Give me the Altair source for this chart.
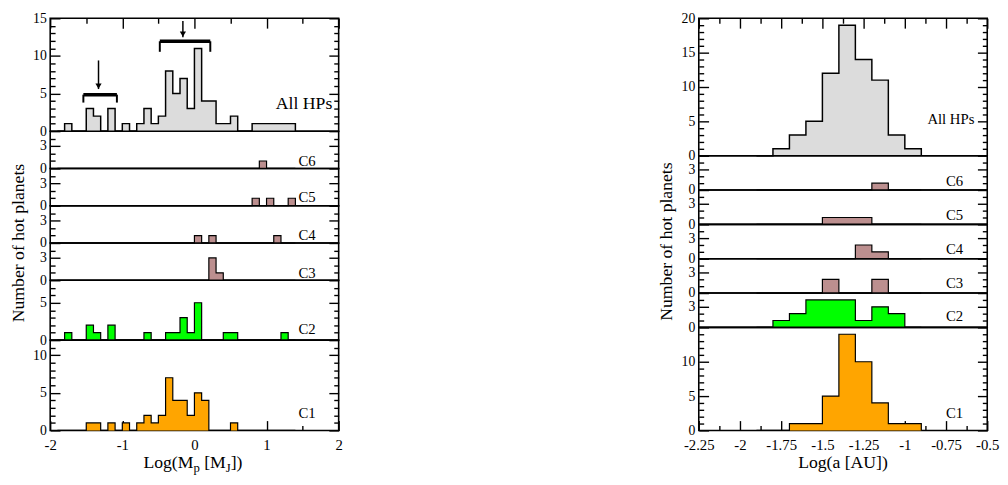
import altair as alt
import pandas as pd

FONT = "Liberation Serif"
BIN = 0.1          # histogram bin width (dex)
TL, TS = 10, 5     # major / minor tick lengths (px)

# ---------------- data ----------------
# Left figure: Log(Mp [MJ]); counts per 0.1-dex bin, first bin starts at -1.8
MASS_START = -1.8
mass_all = [1, 0, 0, 3, 2, 0, 3, 0, 1, 0, 1, 3, 1, 2, 8, 5, 7, 3, 11, 4, 4, 1, 1, 2, 0, 0, 1, 1, 1, 1, 1, 1]
mass_c6 = [0, 0, 0, 0, 0, 0, 0, 0, 0, 0, 0, 0, 0, 0, 0, 0, 0, 0, 0, 0, 0, 0, 0, 0, 0, 0, 0, 1, 0, 0, 0, 0]
mass_c5 = [0, 0, 0, 0, 0, 0, 0, 0, 0, 0, 0, 0, 0, 0, 0, 0, 0, 0, 0, 0, 0, 0, 0, 0, 0, 0, 1, 0, 1, 0, 0, 1]
mass_c4 = [0, 0, 0, 0, 0, 0, 0, 0, 0, 0, 0, 0, 0, 0, 0, 0, 0, 0, 1, 0, 1, 0, 0, 0, 0, 0, 0, 0, 0, 1, 0, 0]
mass_c3 = [0, 0, 0, 0, 0, 0, 0, 0, 0, 0, 0, 0, 0, 0, 0, 0, 0, 0, 0, 0, 3, 1, 0, 0, 0, 0, 0, 0, 0, 0, 0, 0]
mass_c2 = [1, 0, 0, 2, 1, 0, 2, 0, 0, 0, 0, 1, 0, 0, 1, 1, 3, 1, 5, 0, 0, 0, 1, 1, 0, 0, 0, 0, 0, 0, 1, 0]
mass_c1 = [0, 0, 0, 1, 1, 0, 1, 0, 1, 0, 1, 2, 1, 2, 7, 4, 4, 2, 5, 4, 0, 0, 0, 1, 0, 0, 0, 0, 0, 0, 0, 0]

# Right figure: Log(a [AU]); counts per 0.1-dex bin, first bin starts at -1.8
SMA_START = -1.8
sma_all = [1, 3, 5, 12, 19, 14, 11, 3, 1]
sma_c6 = [0, 0, 0, 0, 0, 0, 1, 0, 0]
sma_c5 = [0, 0, 0, 1, 1, 1, 0, 0, 0]
sma_c4 = [0, 0, 0, 0, 0, 2, 1, 0, 0]
sma_c3 = [0, 0, 0, 2, 0, 0, 2, 0, 0]
sma_c2 = [1, 2, 4, 4, 4, 1, 3, 2, 0]
sma_c1 = [0, 1, 1, 5, 14, 10, 4, 1, 1]

panel_names = ["All HPs", "C6", "C5", "C4", "C3", "C2", "C1"]

# axes
mass_domain = [-2, 2]
mass_major = [-2, -1, 0, 1, 2]
mass_minor = [-1.5, -0.5, 0.5, 1.5]
sma_domain = [-2.25, -0.5]
sma_major = [-2.25, -2, -1.75, -1.5, -1.25, -1, -0.75, -0.5]
sma_minor = [-2.125, -1.875, -1.625, -1.375, -1.125, -0.875, -0.625]

mass_ymax = [15, 5, 5, 5, 5, 8, 12]
mass_ymajor = [[0, 5, 10, 15], [0, 3], [0, 3], [0, 3], [0, 3], [0, 5], [0, 5, 10]]
sma_ymax = [20, 5, 5, 5, 5, 5, 15]
sma_ymajor = [[0, 5, 10, 15, 20], [0, 3], [0, 3], [0, 3], [0, 3], [0, 3], [0, 5, 10]]

# bracket / arrow annotations on the left "All HPs" panel (data units)
bracket_x1 = [-1.54, -0.48]
bracket_x2 = [-1.075, 0.22]
bracket_y = [4.85, 11.95]
bracket_foot = [3.8, 10.55]
arrow_x = [-1.33, -0.16]
arrow_top = [9.4, 14.65]
arrow_tip = [5.6, 12.5]

# ---------------- styles ----------------
fills = ["#dcdcdc", "#bc8f8f", "#bc8f8f", "#bc8f8f", "#bc8f8f", "#00ff00", "#ffa500"]
line_w = [1.5, 1.2, 1.2, 1.2, 1.2, 1.2, 1.2]
W = 294
mass_heights = [115, 38, 38, 38, 38, 61, 92]
sma_heights = [140, 35, 35, 35, 35, 35, 105]


def hist_frame(start, counts):
    xs = [round(start - BIN, 3)] + [round(start + BIN * k, 3) for k in range(len(counts) + 1)]
    ns = [0] + list(counts) + [0]
    return pd.DataFrame({"x": xs, "n": ns})


def ax(**kw):
    base = dict(domain=False, grid=False, title=None, tickColor="black", tickWidth=1.4,
                labelFont=FONT, labelFontSize=15, labelColor="black",
                labelFlush=False, labelOverlap=False)
    base.update(kw)
    return alt.Axis(**base)


def make_panel(df, xdom, xmaj, xmin, xside, ymax, ymaj, h, fill, lw,
               label, lab_size, lab_left, lab_up, extras=()):
    xs = alt.Scale(domain=xdom, nice=False, zero=False)
    ys = alt.Scale(domain=[0, ymax], nice=False, zero=True)
    ymin = [v for v in range(0, ymax) if v not in ymaj]
    if xside == "bottom":
        xa1 = ax(orient="bottom", values=xmaj, offset=-TL, tickSize=TL, labelPadding=7,
                 labelExpr="'' + datum.value")
        xa2 = ax(orient="bottom", values=xmin, offset=-TS, tickSize=TS, labels=False)
    elif xside == "top":
        xa1 = ax(orient="top", values=xmaj, offset=-TL, tickSize=TL, labels=False)
        xa2 = ax(orient="top", values=xmin, offset=-TS, tickSize=TS, labels=False)
    else:
        xa1 = None
        xa2 = None
    base = alt.Chart(df)
    area = base.mark_area(interpolate="step-after", color=fill, opacity=1).encode(
        x=alt.X("x:Q", scale=xs, axis=xa1),
        y=alt.Y("n:Q", scale=ys, stack=None,
                axis=ax(orient="left", values=ymaj, offset=-TL, tickSize=TL, labelPadding=4,
                        labelFontSize=14)))
    line = base.mark_line(interpolate="step-after", color="black", strokeWidth=lw).encode(
        x=alt.X("x:Q", scale=xs, axis=xa2),
        y=alt.Y("n:Q", scale=ys,
                axis=ax(orient="left", values=ymin, offset=-TS, tickSize=TS, labels=False)))
    r1 = base.mark_line(strokeOpacity=0).encode(
        x=alt.X("x:Q", scale=xs, axis=None),
        y=alt.Y("n:Q", scale=ys,
                axis=ax(orient="right", values=ymaj, offset=-TL, tickSize=TL, labels=False)))
    r2 = base.mark_line(strokeOpacity=0).encode(
        x=alt.X("x:Q", scale=xs, axis=None),
        y=alt.Y("n:Q", scale=ys,
                axis=ax(orient="right", values=ymin, offset=-TS, tickSize=TS, labels=False)))
    txt = alt.Chart(pd.DataFrame({"t": [label]})).mark_text(
        align="left", baseline="middle", font=FONT, fontSize=lab_size, color="black"
    ).encode(x=alt.value(lab_left), y=alt.value(h - lab_up), text="t:N")
    layers = [area, line, r1, r2, txt] + [e(xs, ys, h) for e in extras]
    return alt.layer(*layers).resolve_axis(x="independent", y="independent").properties(width=W, height=h)


def brackets_layer(xs, ys, h):
    bdf = pd.DataFrame({"x1": bracket_x1, "x2": bracket_x2, "y": bracket_y})
    ends = pd.DataFrame({"x": bracket_x1 + bracket_x2,
                         "y": bracket_y + bracket_y,
                         "yf": bracket_foot + bracket_foot})
    adf = pd.DataFrame({"x": arrow_x, "top": arrow_top, "tip": arrow_tip})
    bar = alt.Chart(bdf).mark_rule(color="black", strokeWidth=3.5).encode(
        x=alt.X("x1:Q", scale=xs, axis=None), x2="x2:Q", y=alt.Y("y:Q", scale=ys, axis=None))
    feet = alt.Chart(ends).mark_rule(color="black", strokeWidth=2).encode(
        x=alt.X("x:Q", scale=xs, axis=None), y=alt.Y("y:Q", scale=ys, axis=None), y2="yf:Q")
    shaft = alt.Chart(adf).mark_rule(color="black", strokeWidth=1.5).encode(
        x=alt.X("x:Q", scale=xs, axis=None), y=alt.Y("top:Q", scale=ys, axis=None), y2="tip:Q")
    head = alt.Chart(adf).mark_point(shape="triangle-down", filled=True, color="black",
                                     size=40, opacity=1, yOffset=-3).encode(
        x=alt.X("x:Q", scale=xs, axis=None), y=alt.Y("tip:Q", scale=ys, axis=None))
    return alt.layer(bar, feet, shaft, head)


def text_part(s, x, dy, size, h, align="left"):
    return alt.Chart(pd.DataFrame({"t": [s]})).mark_text(
        align=align, baseline="alphabetic", font=FONT, fontSize=size, color="black"
    ).encode(x=alt.value(x), y=alt.value(h + dy), text="t:N")


def mass_title(xs, ys, h):
    return alt.layer(
        text_part("Log(M", 95, 38, 18, h),
        text_part("p", 146, 42, 13, h),
        text_part("[M", 157, 38, 18, h),
        text_part("J", 179, 42, 13, h),
        text_part("])", 184, 38, 18, h),
    )


def sma_title(xs, ys, h):
    return text_part("Log(a [AU])", W / 2, 38, 18, h, align="center")


def ytitle():
    return alt.TitleParams(text="Number of hot planets", orient="left", anchor="middle",
                           font=FONT, fontSize=18, fontWeight="normal", color="black", offset=4)


mass_series = [mass_all, mass_c6, mass_c5, mass_c4, mass_c3, mass_c2, mass_c1]
sma_series = [sma_all, sma_c6, sma_c5, sma_c4, sma_c3, sma_c2, sma_c1]

mass_label_up = [27.5, 8, 8.3, 8, 7.7, 11, 18]
sma_label_up = [37, 9.3, 9.3, 9.4, 10, 11.6, 18]

left_panels = []
right_panels = []
for k, name in enumerate(panel_names):
    side = "top" if k == 0 else ("bottom" if k == len(panel_names) - 1 else "none")
    lext = []
    rext = []
    if k == 0:
        lext = [brackets_layer]
    if k == len(panel_names) - 1:
        lext = [mass_title]
        rext = [sma_title]
    left_panels.append(make_panel(
        hist_frame(MASS_START, mass_series[k]), mass_domain, mass_major, mass_minor, side,
        mass_ymax[k], mass_ymajor[k], mass_heights[k], fills[k], line_w[k],
        name, 18 if k == 0 else 15, 230 if k == 0 else 253, mass_label_up[k], lext))
    right_panels.append(make_panel(
        hist_frame(SMA_START, sma_series[k]), sma_domain, sma_major, sma_minor, side,
        sma_ymax[k], sma_ymajor[k], sma_heights[k], fills[k], line_w[k],
        name, 15, 233 if k == 0 else 252, sma_label_up[k], rext))

left = alt.vconcat(*left_panels, spacing=0, bounds="flush").properties(title=ytitle())
right = alt.vconcat(*right_panels, spacing=0, bounds="flush").properties(title=ytitle())

chart = alt.hconcat(left, right, spacing=321).properties(
    padding={"left": 2, "top": -2, "right": 0, "bottom": 0}
).configure(background="white").configure_view(stroke="black", strokeWidth=1.6)

chart.save("out.html", embed_options={"renderer": "svg", "actions": False})
